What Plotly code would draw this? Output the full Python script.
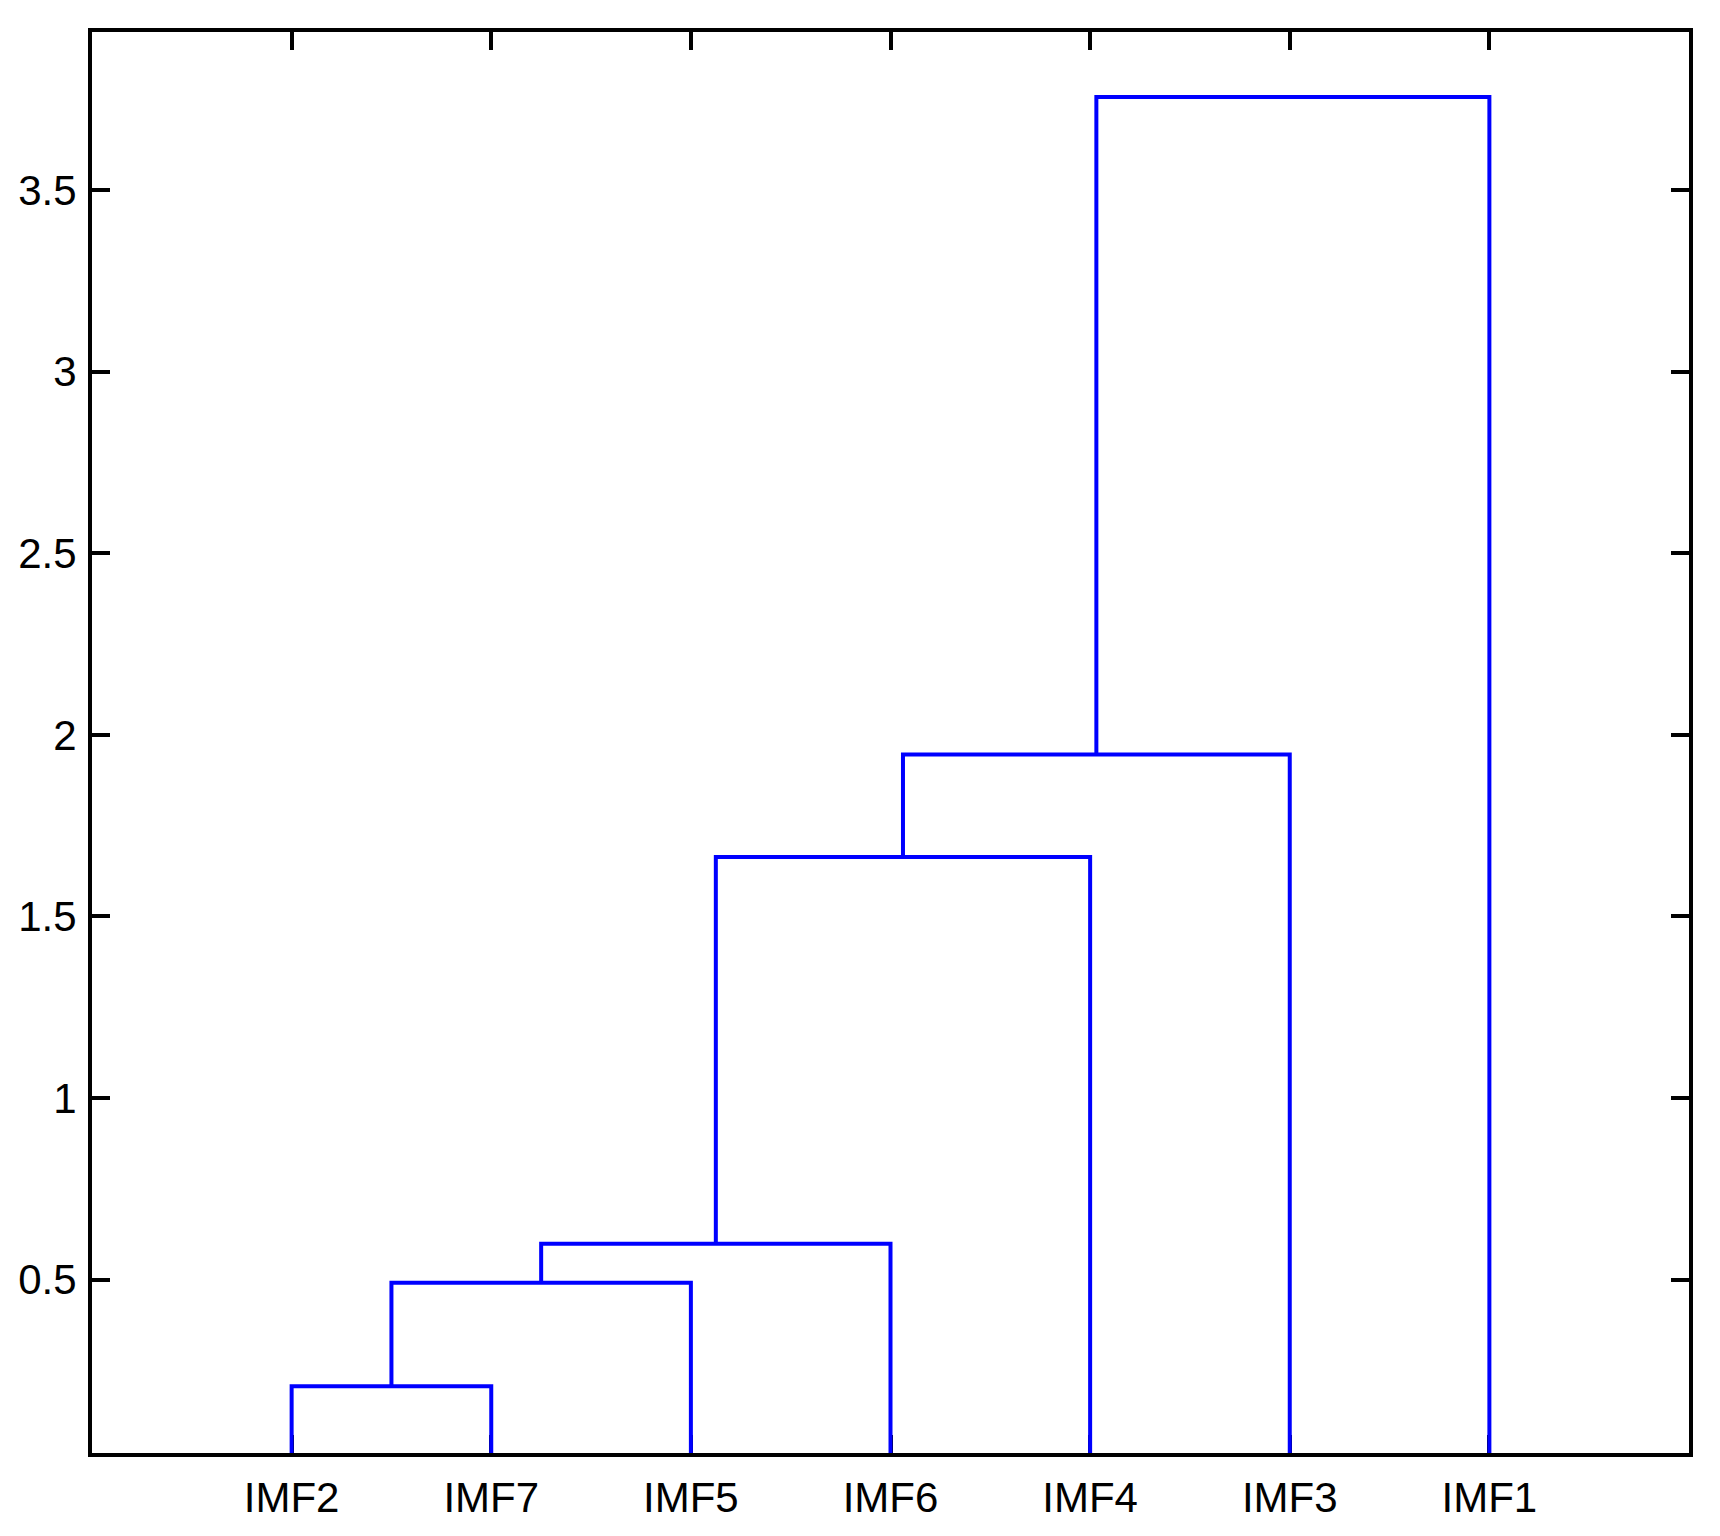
import plotly.graph_objects as go

# Leaf order (as displayed, left to right)
labels = ["IMF2", "IMF7", "IMF5", "IMF6", "IMF4", "IMF3", "IMF1"]

# Linkage: (left node, right node); node ids 0..6 are leaves, 7+ are clusters
merge_left = [0, 7, 8, 9, 10, 11]
merge_right = [1, 2, 3, 4, 5, 6]
merge_heights = [0.207, 0.492, 0.599, 1.664, 1.946, 3.756]

y_ticks = [0.5, 1, 1.5, 2, 2.5, 3, 3.5]
y_tick_text = ["0.5", "1", "1.5", "2", "2.5", "3", "3.5"]

n = len(labels)
pos = {i: i + 1 for i in range(n)}
hgt = {i: 0.0 for i in range(n)}

xs, ys = [], []
for k, (a, b, h) in enumerate(zip(merge_left, merge_right, merge_heights)):
    xa, xb = pos[a], pos[b]
    ya, yb = hgt[a], hgt[b]
    xs += [xa, xa, xb, xb, None]
    ys += [ya, h, h, yb, None]
    pos[n + k] = (xa + xb) / 2
    hgt[n + k] = h

fig = go.Figure()
fig.add_trace(go.Scatter(x=xs, y=ys, mode="lines",
                         line=dict(color="#0000FF", width=4),
                         showlegend=False, hoverinfo="skip"))

font = dict(family="Liberation Sans, Arial, sans-serif", size=42, color="black")

# page body adds an offset; margins compensate so the box lands where the reference has it
fig.update_layout(
    width=1720, height=1536,
    margin=dict(l=84, r=39, t=24, b=91, autoexpand=False),
    plot_bgcolor="white", paper_bgcolor="white",
    showlegend=False,
    font=font,
)
fig.update_xaxes(
    range=[0, n + 1],
    tickmode="array", tickvals=list(range(1, n + 1)), ticktext=labels,
    ticks="inside", ticklen=18, tickwidth=4, tickcolor="black",
    showline=True, linewidth=4, linecolor="black", mirror="allticks",
    showgrid=False, zeroline=False, tickfont=font,
    ticklabelstandoff=5, automargin=False, layer="below traces",
)
fig.update_yaxes(
    range=[0.023, 3.935],
    tickmode="array", tickvals=y_ticks, ticktext=y_tick_text,
    ticks="inside", ticklen=18, tickwidth=4, tickcolor="black",
    showline=True, linewidth=4, linecolor="black", mirror="allticks",
    showgrid=False, zeroline=False, tickfont=font,
    ticklabelstandoff=3, automargin=False, layer="below traces",
)

fig.write_html("out.html")
